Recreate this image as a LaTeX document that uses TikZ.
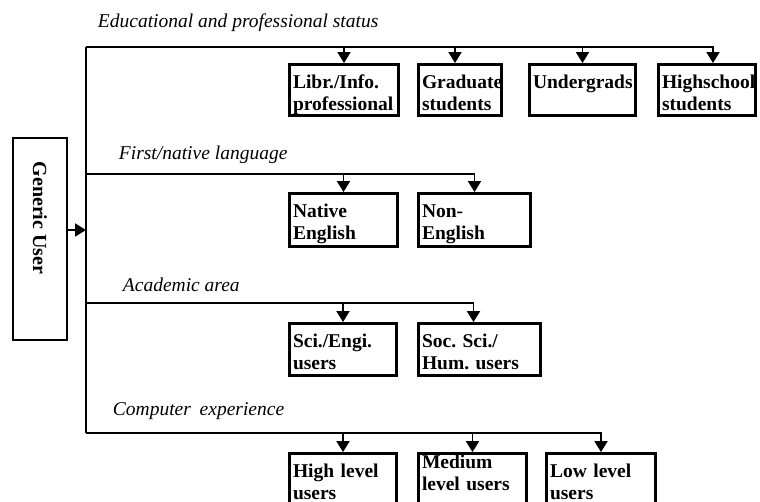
\documentclass[tikz,border=0pt]{standalone}
\usepackage{fontspec}
\setmainfont{Liberation Serif}
\usetikzlibrary{arrows.meta}
\frenchspacing
\begin{document}
\begin{tikzpicture}[x=1pt, y=-1pt, line width=1.9pt]
		\tikzset{
		    ubox/.style= {draw, rectangle, line width=2.9pt, inner sep=0pt},
		    utext/.style= {anchor=base west, xshift=4pt, yshift=-25pt, inner sep=0pt, text width=120pt, align=left, font=\fontsize{19.5}{22}\selectfont\bfseries},
		    ulabel/.style= {anchor=base west, inner sep=0pt, font=\fontsize{19.5}{22}\selectfont\itshape},
		    uarrow/.style= {-{Triangle[width=13pt, length=11pt]}},
		}
		
		\useasboundingbox (0,0) rectangle (760,502);
		\clip (0,0) rectangle (760,502);
		
		\node[draw, rectangle, line width=1.9pt, minimum width=54pt, minimum height=202pt] (gu) at (40,239) {};
		\node[rotate=-90, inner sep=0pt, font=\fontsize{20}{22}\selectfont\bfseries] (gut) at (40,218) {Generic User};
		
		\coordinate (top) at (86,47);
		\coordinate (lang) at (86,174);
		\coordinate (hub) at (86,230);
		\coordinate (area) at (86,303);
		\coordinate (bot) at (86,433);
		
		\node[ulabel] (ledu) at (97,28) {Educational and professional status};
		\node[ulabel] (llang) at (118,160) {First/native language};
		\node[ulabel] (larea) at (122,292) {Academic area};
		\node[ulabel] (lcomp) at (112,415) {Computer\hspace{0.2em} experience};
		
		\node[ubox, minimum width=109pt, minimum height=51pt] (e1) at (344,90) {};
		\node[ubox, minimum width=83pt, minimum height=51pt] (e2) at (460,90) {};
		\node[ubox, minimum width=106pt, minimum height=51pt] (e3) at (582.5,90) {};
		\node[ubox, minimum width=97pt, minimum height=51pt] (e4) at (707,90) {};
		\node[utext] (e1t) at (e1.north west) {Libr./Info.\\professional};
		\node[utext] (e2t) at (e2.north west) {Graduate\\students};
		\node[utext] (e3t) at (e3.north west) {Undergrads};
		\node[utext] (e4t) at (e4.north west) {Highschool\\students};
		
		\node[ubox, minimum width=108pt, minimum height=53pt] (n1) at (343.5,220) {};
		\node[ubox, minimum width=112pt, minimum height=53pt] (n2) at (474.5,220) {};
		\node[utext] (n1t) at (n1.north west) {Native\\English};
		\node[utext] (n2t) at (n2.north west) {Non-\\English};
		
		\node[ubox, minimum width=107pt, minimum height=52pt] (a1) at (343,349.5) {};
		\node[ubox, minimum width=122pt, minimum height=52pt] (a2) at (479.5,349.5) {};
		\node[utext] (a1t) at (a1.north west) {Sci./Engi.\\users};
		\node[utext] (a2t) at (a2.north west) {Soc. Sci./\\Hum. users};
		
		\node[ubox, minimum width=107pt, minimum height=52pt] (c1) at (343,479.5) {};
		\node[ubox, minimum width=108pt, minimum height=52pt] (c2) at (472.5,479.5) {};
		\node[ubox, minimum width=109pt, minimum height=52pt] (c3) at (601,479.5) {};
		\node[utext] (c1t) at (c1.north west) {High level\\users};
		\node[utext, yshift=9pt] (c2t) at (c2.north west) {Medium\\level users};
		\node[utext] (c3t) at (c3.north west) {Low level\\users};
		
		\draw (top) -- (bot);
		\draw[uarrow] (gu.east |- hub) -- (hub);
		
		\draw[uarrow] (top) -| ([xshift=6pt]e4.north);
		\draw[uarrow] (e1.north |- top) -- (e1.north);
		\draw[uarrow] ([xshift=-5pt]e2.north |- top) -- ([xshift=-5pt]e2.north);
		\draw[uarrow] (e3.north |- top) -- (e3.north);
		
		\draw[uarrow] (lang) -| (n2.north);
		\draw[uarrow] (n1.north |- lang) -- (n1.north);
		
		\draw[uarrow] (area) -| ([xshift=-6pt]a2.north);
		\draw[uarrow] (a1.north |- area) -- (a1.north);
		
		\draw[uarrow] (bot) -| (c3.north);
		\draw[uarrow] (c1.north |- bot) -- (c1.north);
		\draw[uarrow] (c2.north |- bot) -- (c2.north);
\end{tikzpicture}
\end{document}
